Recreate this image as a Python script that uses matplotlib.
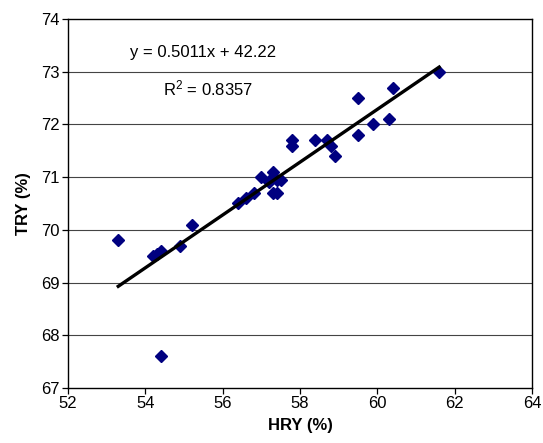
import matplotlib
matplotlib.use("Agg")
import matplotlib.pyplot as plt
import numpy as np

hry = [53.3, 54.4, 54.2, 54.3, 54.4, 54.9, 55.2, 56.4, 56.6, 56.8, 57.0, 57.3, 57.3, 57.4, 57.2,
       57.5, 57.3, 57.4, 57.8, 57.8, 58.4, 58.7, 58.8, 58.9, 59.5, 59.5, 59.9, 60.3, 60.4, 61.6]
tryv = [69.8, 67.6, 69.5, 69.55, 69.6, 69.7, 70.1, 70.5, 70.6, 70.7, 71.0, 71.1, 71.0, 70.95, 70.9,
        70.95, 70.7, 70.7, 71.7, 71.6, 71.7, 71.7, 71.6, 71.4, 72.5, 71.8, 72.0, 72.1, 72.7, 73.0]
slope = 0.5011
intercept = 42.22
r2 = 0.8357
xticks = [52, 54, 56, 58, 60, 62, 64]
yticks = [67, 68, 69, 70, 71, 72, 73, 74]

plt.rcParams['font.family'] = ['Liberation Sans', 'DejaVu Sans']
plt.rcParams['mathtext.fontset'] = 'custom'
plt.rcParams['mathtext.rm'] = 'Liberation Sans'
plt.rcParams['mathtext.it'] = 'Liberation Sans'
fig = plt.figure(figsize=(5.43, 4.43), dpi=100)
ax = fig.add_axes([0.1252, 0.1242, 0.8545, 0.8329])

for y in yticks[1:-1]:
    ax.axhline(y, color='#444444', lw=0.8, zorder=1)

ax.plot(hry, tryv, 'D', color='#000080', markersize=6.5, zorder=3)
xs = np.array([min(hry), max(hry)])
ax.plot(xs, slope * xs + intercept, color='black', lw=2.4, zorder=4)

ax.set_xlim(52, 64)
ax.set_ylim(67, 74)
ax.set_xticks(xticks)
ax.set_yticks(yticks)
ax.tick_params(direction='out', length=4, width=0.9, labelsize=12, colors='black', pad=2)
for s in ax.spines.values():
    s.set_linewidth(1.0)
    s.set_color('black')

ax.set_xlabel('HRY (%)', fontsize=12, fontweight='bold', labelpad=5)
ax.set_ylabel('TRY (%)', fontsize=12, fontweight='bold', labelpad=7)

fig.text(203 / 543, 1 - 53 / 443, f'y = {slope}x + {intercept}', fontsize=12, ha='center', va='center')
fig.text(208 / 543, 1 - 88 / 443, f'R$^{{2}}$ = {r2}', fontsize=12, ha='center', va='center')

fig.savefig('out.png', dpi=100)
